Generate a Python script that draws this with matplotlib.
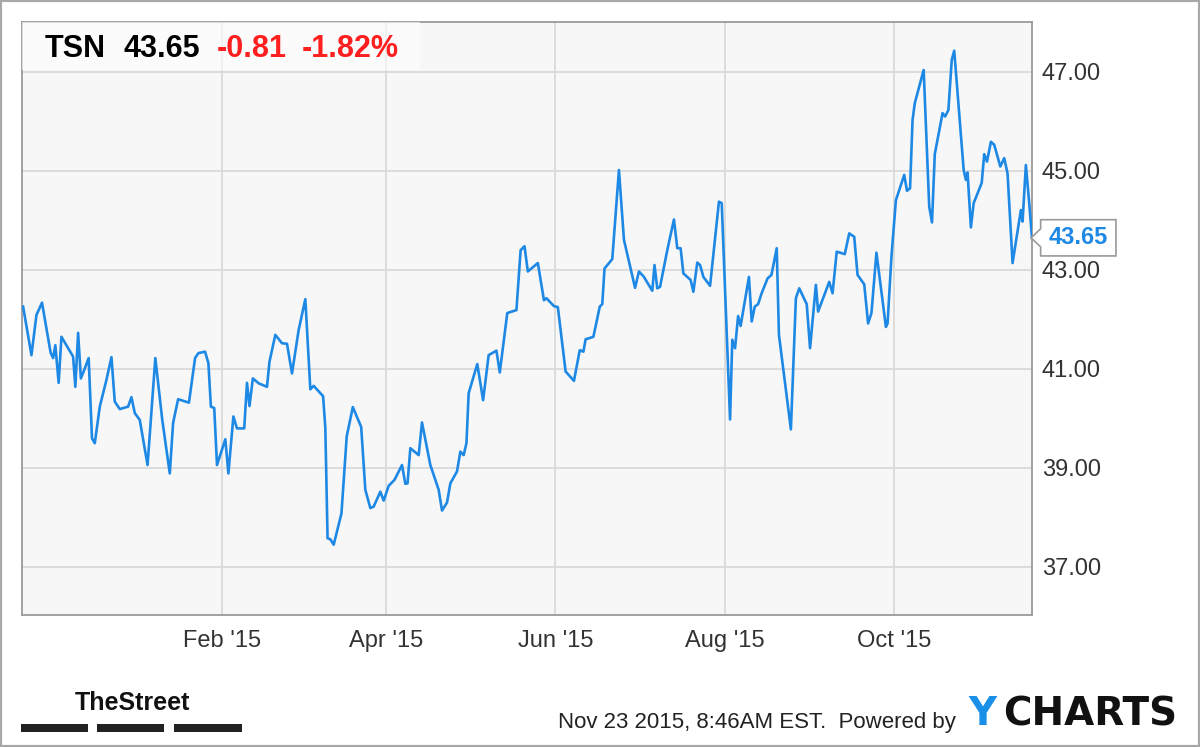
import matplotlib
matplotlib.use('Agg')
import matplotlib.pyplot as plt
import matplotlib.dates as mdates
from matplotlib.patches import Rectangle
from matplotlib.path import Path
from matplotlib.ticker import FormatStrFormatter
import pandas as pd

plt.rcParams['font.family'] = ['Liberation Sans', 'DejaVu Sans']

TICKER = 'TSN'
LAST = 43.65
CHANGE = -0.81
CHANGE_PCT = -1.82
STAMP = 'Nov 23 2015, 8:46AM EST.'

# daily closes, x = days after START
START = '2014-11-21'
DAYS = [0.4, 3.4, 5.2, 7.2, 10.3, 11.2, 12.0, 13.2, 14.2, 16.3,
        18.4, 19.2, 20.2, 21.2, 22.6, 24.0, 25.2, 26.2, 28.0, 30.4,
        32.2, 33.4, 35.2, 38.2, 39.4, 40.6, 42.4, 45.2, 48.0, 50.5,
        53.2, 54.4, 56.2, 60.1, 62.3, 63.5, 65.9, 67.1, 68.0, 69.2,
        70.2, 73.2, 74.3, 76.1, 77.4, 80.0, 81.0, 81.9, 83.1, 85.2,
        88.2, 89.1, 91.2, 93.6, 95.4, 97.2, 99.6, 102.0, 103.8, 105.0,
        108.4, 109.2, 110.0, 111.0, 112.2, 115.0, 116.9, 119.1, 122.1, 123.6,
        125.4, 126.6, 129.0, 130.2, 132.0, 134.1, 136.8, 138.0, 138.8, 139.8,
        142.8, 144.0, 147.0, 150.0, 151.2, 153.0, 154.2, 156.6, 157.8, 159.0,
        160.0, 160.8, 163.9, 166.0, 168.0, 170.8, 172.0, 174.7, 178.0, 179.5,
        180.9, 182.1, 185.7, 187.9, 188.8, 191.5, 192.9, 195.7, 198.7, 200.8,
        202.1, 202.9, 205.7, 208.0, 208.9, 209.7, 212.5, 214.9, 216.7, 220.7,
        222.1, 223.9, 226.9, 227.7, 228.7, 229.7, 232.3, 234.7, 235.9, 237.1,
        238.1, 240.7, 241.7, 243.1, 244.1, 245.3, 247.7, 250.9, 251.9, 254.9,
        255.7, 256.7, 257.8, 258.7, 261.7, 262.7, 263.8, 265.0, 266.2, 268.4,
        269.8, 271.7, 272.5, 276.8, 278.6, 279.8, 282.5, 283.7, 285.8, 286.6,
        290.6, 291.8, 293.3, 296.2, 297.8, 299.6, 300.8, 303.2, 304.6, 305.8,
        307.6, 311.0, 311.6, 313.0, 314.6, 317.6, 318.6, 319.7, 320.6, 321.4,
        324.6, 326.6, 327.6, 328.6, 331.4, 332.3, 333.5, 334.7, 335.6, 339.0,
        339.8, 340.4, 341.6, 342.6, 345.5, 346.4, 347.4, 348.8, 350.0, 352.2,
        353.6, 354.8, 356.6, 359.6, 360.2, 361.4, 362.6, 363.6]
PRICES = [42.26, 41.28, 42.09, 42.34, 41.33, 41.22, 41.48, 40.72, 41.65, 41.45,
          41.25, 40.64, 41.73, 40.81, 41.01, 41.22, 39.60, 39.50, 40.24, 40.78,
          41.24, 40.34, 40.19, 40.24, 40.43, 40.11, 39.97, 39.06, 41.22, 39.97,
          38.89, 39.91, 40.39, 40.32, 41.22, 41.32, 41.35, 41.12, 40.24, 40.21,
          39.06, 39.58, 38.89, 40.04, 39.80, 39.80, 40.72, 40.25, 40.81, 40.71,
          40.64, 41.15, 41.69, 41.52, 41.51, 40.91, 41.79, 42.41, 40.59, 40.66,
          40.45, 39.81, 37.58, 37.56, 37.45, 38.08, 39.64, 40.23, 39.83, 38.56,
          38.19, 38.22, 38.52, 38.34, 38.64, 38.76, 39.06, 38.68, 38.69, 39.40,
          39.26, 39.92, 39.06, 38.56, 38.14, 38.30, 38.69, 38.93, 39.33, 39.26,
          39.50, 40.51, 41.10, 40.37, 41.28, 41.37, 40.93, 42.13, 42.19, 43.40,
          43.48, 42.97, 43.14, 42.39, 42.43, 42.27, 42.25, 40.95, 40.76, 41.38,
          41.35, 41.60, 41.65, 42.26, 42.31, 43.03, 43.22, 45.02, 43.61, 42.64,
          42.97, 42.86, 42.58, 43.10, 42.63, 42.66, 43.40, 44.02, 43.44, 43.44,
          42.93, 42.80, 42.56, 43.15, 43.10, 42.86, 42.68, 44.38, 44.35, 39.98,
          41.59, 41.42, 42.07, 41.87, 42.86, 41.96, 42.26, 42.31, 42.52, 42.83,
          42.90, 43.44, 41.69, 39.78, 42.43, 42.63, 42.31, 41.42, 42.70, 42.16,
          42.76, 42.53, 43.37, 43.32, 43.74, 43.67, 42.90, 42.71, 41.92, 42.13,
          43.35, 41.85, 41.92, 43.27, 44.41, 44.92, 44.60, 44.65, 46.03, 46.37,
          47.04, 44.28, 43.96, 45.34, 46.17, 46.10, 46.23, 47.24, 47.43, 45.02,
          44.82, 44.97, 43.86, 44.35, 44.76, 45.34, 45.19, 45.59, 45.53, 45.09,
          45.26, 44.95, 43.14, 44.21, 43.98, 45.12, 44.35, 43.65]

YTICKS = [37, 39, 41, 43, 45, 47]
XTICKS = ['2015-02-01', '2015-04-01', '2015-06-01', '2015-08-01', '2015-10-01']

BLUE = '#1e88e5'
RED = '#ff1f1f'


def flag_box(x0, y0, width, height, mutation_size):
    # rectangle with a notch pointing left at the last point
    px, py = 0.34 * mutation_size, 0.28 * mutation_size
    x0, y0 = x0 - px, y0 - py
    x1, y1 = x0 + width + 2 * px, y0 + height + 2 * py
    ym = (y0 + y1) / 2
    a = 0.25 * (y1 - y0)
    verts = [(x0, y0), (x1, y0), (x1, y1), (x0, y1), (x0, ym + a),
             (x0 - 1.05 * a, ym), (x0, ym - a), (x0, y0), (x0, y0)]
    return Path(verts, closed=True)


dates = pd.to_datetime(START) + pd.to_timedelta(DAYS, unit='D')

W, H = 1200, 747
fig = plt.figure(figsize=(W / 100, H / 100), dpi=100)
ax = fig.add_axes([22 / W, 1 - 615 / H, 1010 / W, 593 / H])
ax.set_facecolor('#f7f7f7')

ax.plot(dates, PRICES, color=BLUE, lw=1.9, solid_joinstyle='round', zorder=4)

ax.set_ylim(36.03, 48.01)
ax.set_xlim(pd.to_datetime(START), dates[-1])
ax.set_yticks(YTICKS)
ax.set_xticks(pd.to_datetime(XTICKS))
ax.yaxis.set_major_formatter(FormatStrFormatter('%.2f'))
ax.xaxis.set_major_formatter(mdates.DateFormatter("%b '%y"))
ax.yaxis.tick_right()
ax.tick_params(axis='both', length=0, labelsize=17, colors='#333333')
ax.tick_params(axis='y', pad=7)
ax.tick_params(axis='x', pad=11)
ax.grid(True, color='#dadada', lw=1.3)
ax.set_axisbelow(True)
for s in ax.spines.values():
    s.set_color('#9a9a9a')
    s.set_linewidth(1.3)

# header box
ax.add_patch(Rectangle((0, 1 - 48 / 593), 398 / 1010, 48 / 593, transform=ax.transAxes,
                       fc='white', ec='none', alpha=0.6, zorder=3))
hy = 1 - 49 / H
fig.text(45 / W, hy, TICKER, fontsize=22, weight='bold', va='center')
fig.text(124 / W, hy, f'{LAST:.2f}', fontsize=22, weight='bold', va='center')
fig.text(217 / W, hy, f'{CHANGE:.2f}', fontsize=22, weight='bold', va='center', color=RED)
fig.text(302 / W, hy, f'{CHANGE_PCT:.2f}%', fontsize=22, weight='bold', va='center', color=RED)

# last value flag
ax.annotate(f'{PRICES[-1]:.2f}', xy=(dates[-1], PRICES[-1]), xytext=(12, 0),
            textcoords='offset points', ha='left', va='center', fontsize=17,
            weight='bold', color=BLUE, annotation_clip=False, zorder=6,
            bbox=dict(boxstyle=flag_box, fc='white', ec='#9a9a9a', lw=1.2))

# footer
fig.text(75 / W, 1 - 710 / H, 'TheStreet', fontsize=18, weight='bold',
         va='baseline', color='#111111')
for x0, x1 in [(21, 88), (97, 164), (174, 242)]:
    fig.add_artist(Rectangle((x0 / W, 1 - 732 / H), (x1 - x0) / W, 8 / H,
                             transform=fig.transFigure, fc='#222222', ec='none'))
fig.text(558 / W, 1 - 728 / H, STAMP + '  Powered by', fontsize=16,
         va='baseline', color='#222222')
fig.text(968 / W, 1 - 725 / H, 'Y', fontsize=28, weight='bold', va='baseline',
         family='DejaVu Sans', color='#1a8fe8')
fig.text(1177 / W, 1 - 725 / H, 'CHARTS', fontsize=28, weight='bold',
         va='baseline', ha='right', family='DejaVu Sans', color='#111111')

fig.add_artist(Rectangle((0, 0), 1, 1, transform=fig.transFigure, fill=False,
                         ec='#a8a8a8', lw=3))

fig.savefig('out.png', dpi=100)
